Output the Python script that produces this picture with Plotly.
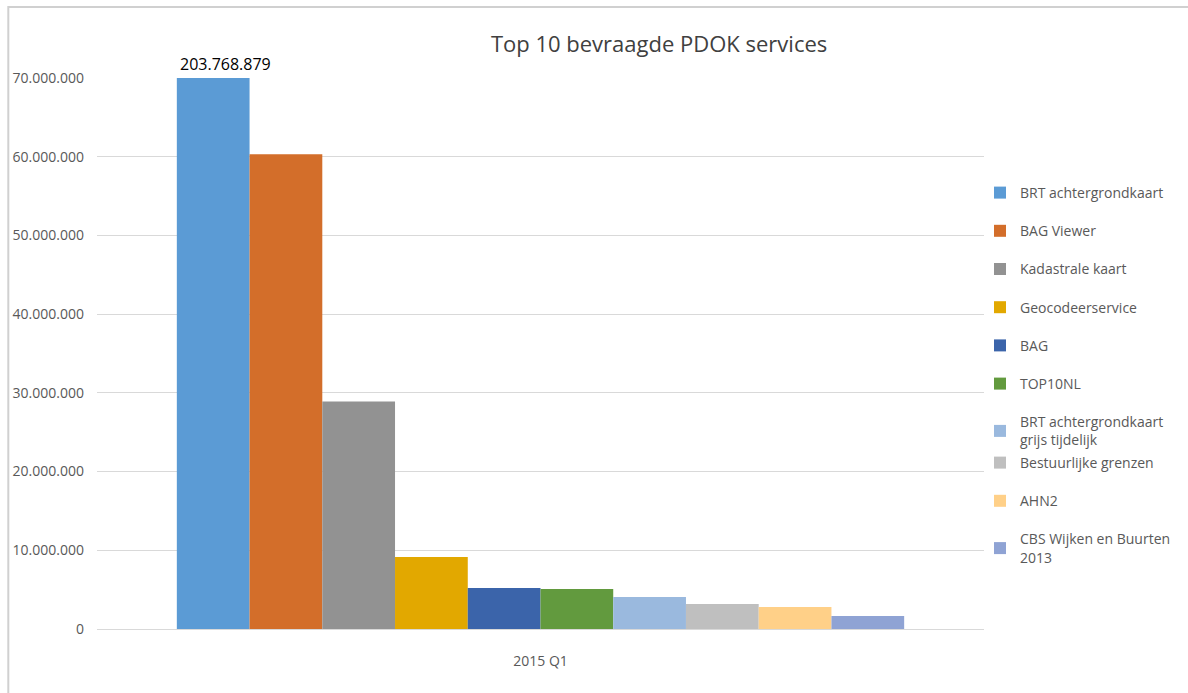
import plotly.graph_objects as go

category = ["2015 Q1"]
services = [
    "BRT achtergrondkaart",
    "BAG Viewer",
    "Kadastrale kaart",
    "Geocodeerservice",
    "BAG",
    "TOP10NL",
    "BRT achtergrondkaart<br>grijs tijdelijk",
    "Bestuurlijke grenzen",
    "AHN2",
    "CBS Wijken en Buurten<br>2013",
]
values = [203768879, 60300000, 28900000, 9150000, 5200000, 5080000, 4070000, 3180000, 2800000, 1650000]
colors = ["#5B9BD5", "#D36E2A", "#929292", "#E2A800", "#3B64AA", "#629A3E",
          "#9AB9DE", "#BFBFBF", "#FFD088", "#8FA3D4"]
y_max = 70000000
bargap = 0.18

fig = go.Figure()
for i, (name, v, c) in enumerate(zip(services, values, colors)):
    fig.add_trace(go.Bar(
        x=category, y=[v], name=name, marker=dict(color=c, line=dict(width=0)),
        legendgroup=str(i), legend="legend" if i < 7 else "legend2",
    ))

# label for the bar that exceeds the axis range (placed at its bar's centre)
n = len(values)
group_w = 1 - bargap
for i, v in enumerate(values):
    if v > y_max:
        xc = -group_w / 2 + group_w / n * (i + 0.5)
        fig.add_annotation(x=xc, y=y_max, xref="x", yref="y", text=f"{v:,}".replace(",", "."),
                           showarrow=False, yanchor="bottom", yshift=1, xshift=12,
                           font=dict(family="Open Sans", size=16, color="#000000"))

W, H = 1188, 693
L, R, T, B = 97, 201, 78, 64
pw, ph = W - L - R, H - T - B

def px_x(p):
    return (p - L) / pw

def px_y(p):
    return (H - B - p) / ph

legend_style = dict(xanchor="left", yanchor="top", font=dict(size=14, color="#595959"),
                    tracegroupgap=17, traceorder="grouped", bgcolor="rgba(0,0,0,0)")

fig.update_layout(
    width=W, height=H,
    margin=dict(l=L, r=R, t=T, b=B),
    paper_bgcolor="white", plot_bgcolor="white",
    separators=",.",
    barmode="group", bargap=bargap, bargroupgap=0,
    font=dict(family="Open Sans", color="#595959", size=14),
    title=dict(text="Top 10 bevraagde PDOK services", xref="paper", x=px_x(661), xanchor="center",
               yref="container", y=1 - 44 / H, yanchor="middle",
               font=dict(size=22, color="#404040", family="Open Sans")),
    xaxis=dict(showgrid=False, showline=False, ticks="", ticklabelstandoff=22,
               tickfont=dict(size=14, color="#595959")),
    yaxis=dict(range=[0, y_max], dtick=10000000, tickformat=",d", showgrid=True,
               gridcolor="#D9D9D9", gridwidth=1, zeroline=True, zerolinecolor="#D9D9D9",
               zerolinewidth=1, showline=False, ticks="", ticklabelstandoff=12,
               tickfont=dict(size=14, color="#595959")),
    legend=dict(x=px_x(983), y=px_y(177), **legend_style),
    legend2=dict(x=px_x(983), y=px_y(447), **legend_style),
    showlegend=True,
)
fig.add_shape(type="rect", xref="paper", yref="paper",
              x0=px_x(8), x1=px_x(1230), y0=px_y(720), y1=px_y(7),
              line=dict(color="#D0D0D0", width=2), fillcolor="rgba(0,0,0,0)", layer="below")

fig.write_html("out.html", config={"displayModeBar": False},
               post_script="document.body.style.margin='0';")
